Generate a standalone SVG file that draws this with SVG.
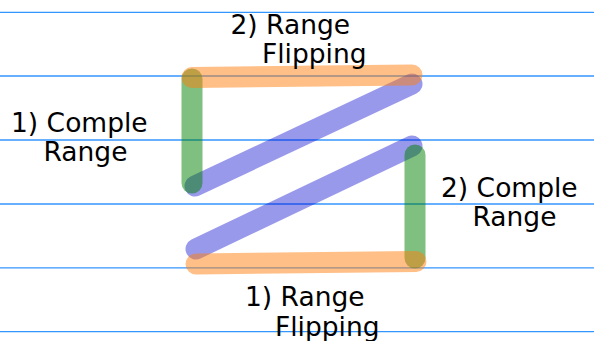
<svg xmlns="http://www.w3.org/2000/svg" width="594" height="341" viewBox="0 0 594 341">
<style>
.grid{stroke:#3396ff;stroke-width:1.3}
.seg{fill:none;stroke-width:21;stroke-linecap:round}
.b{stroke:#0000d0;stroke-opacity:0.4}
.g{stroke:#008000;stroke-opacity:0.5}
.o{stroke:#ff7f0e;stroke-opacity:0.5}
text{font-family:"DejaVu Sans",sans-serif;font-size:26.5px;fill:#000}
</style>
<rect width="594" height="341" fill="#fff"/>
<g id="grid">
<line class="grid" x1="0" y1="12.3" x2="594" y2="12.3"/>
<line class="grid" x1="0" y1="76" x2="594" y2="76"/>
<line class="grid" x1="0" y1="140" x2="594" y2="140"/>
<line class="grid" x1="0" y1="204" x2="594" y2="204"/>
<line class="grid" x1="0" y1="267.8" x2="594" y2="267.8"/>
<line class="grid" x1="0" y1="331.7" x2="594" y2="331.7"/>
</g>
<g id="connectors">
<line class="seg b" x1="195" y1="186" x2="412" y2="84"/>
<line class="seg b" x1="196" y1="249" x2="412" y2="146"/>
<line class="seg g" x1="192" y1="79" x2="192" y2="183"/>
<line class="seg g" x1="415" y1="155" x2="415" y2="258"/>
<line class="seg o" x1="192" y1="77.5" x2="412" y2="75"/>
<line class="seg o" x1="196" y1="264" x2="416" y2="261.5"/>
</g>
<g id="label-top">
<text x="230.5" y="33.5">2) Range</text>
<text x="262" y="63">Flipping</text>
</g>
<g id="label-left">
<text x="11" y="131.5">1) Comple</text>
<text x="43.5" y="161">Range</text>
</g>
<g id="label-right">
<text x="441" y="197">2) Comple</text>
<text x="472.5" y="226">Range</text>
</g>
<g id="label-bottom">
<text x="245" y="306">1) Range</text>
<text x="275" y="336">Flipping</text>
</g>
</svg>
